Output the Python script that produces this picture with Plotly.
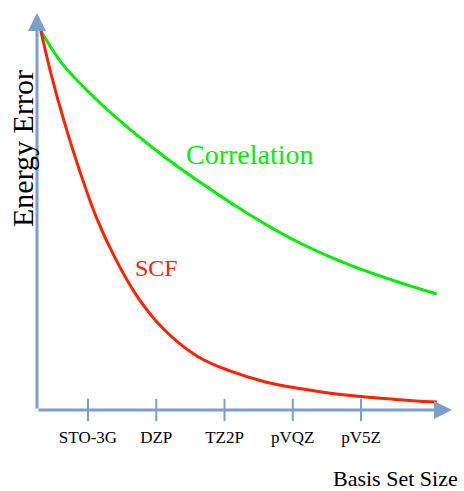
import plotly.graph_objects as go

# ---- data ----
tick_pos = [1, 2, 3, 4, 5]
tick_labels = ["STO-3G", "DZP", "TZ2P", "pVQZ", "pV5Z"]

corr_x = [0.31, 0.63, 1.13, 1.62, 2.10, 2.60, 3.08, 3.60, 4.11, 4.84, 5.57, 6.11]
corr_y = [1.000, 0.912, 0.818, 0.740, 0.671, 0.606, 0.548, 0.490, 0.440, 0.382, 0.336, 0.306]

scf_x = [0.31, 0.45, 0.64, 0.88, 1.13, 1.40, 1.72, 2.10, 2.60, 3.08, 3.60, 4.10, 4.80, 5.50, 6.11]
scf_y = [1.000, 0.893, 0.768, 0.630, 0.505, 0.400, 0.300, 0.215, 0.142, 0.103, 0.074, 0.057, 0.039, 0.028, 0.021]

x_min, x_max = 0.253, 6.333
y_min, y_max = 0.0, 1.0475

AXIS = "#7BA0D0"
GREEN = "#00EE00"
RED = "#FF2200"
SERIF = "Liberation Serif, Times New Roman, serif"

fig = go.Figure()

fig.add_trace(go.Scatter(x=corr_x, y=corr_y, mode="lines",
                         line=dict(color=GREEN, width=3, shape="spline", smoothing=1.0),
                         hoverinfo="skip", showlegend=False))
fig.add_trace(go.Scatter(x=scf_x, y=scf_y, mode="lines",
                         line=dict(color=RED, width=3, shape="spline", smoothing=1.0),
                         hoverinfo="skip", showlegend=False))

# tick marks crossing the x axis
fig.add_trace(go.Scatter(x=tick_pos, y=[0] * len(tick_pos), mode="markers",
                         marker=dict(symbol="line-ns", size=16,
                                     line=dict(color=AXIS, width=2)),
                         hoverinfo="skip", showlegend=False, cliponaxis=False))

# axes with arrows
fig.add_annotation(x=x_max, y=0, ax=x_min, ay=0, xref="x", yref="y",
                   axref="x", ayref="y", text="", showarrow=True,
                   arrowhead=2, arrowsize=1.2, arrowwidth=3, arrowcolor=AXIS)
fig.add_annotation(x=x_min, y=y_max, ax=x_min, ay=0, xref="x", yref="y",
                   axref="x", ayref="y", text="", showarrow=True,
                   arrowhead=2, arrowsize=1.2, arrowwidth=3, arrowcolor=AXIS)

# curve labels
fig.add_annotation(x=3.37, y=0.673, xref="x", yref="y", text="Correlation",
                   showarrow=False, font=dict(family=SERIF, size=28, color=GREEN))
fig.add_annotation(x=2.01, y=0.375, xref="x", yref="y", text="SCF",
                   showarrow=False, font=dict(family=SERIF, size=24, color=RED))

W, H = 464, 491
L, R, T, B = 37, 12, 13, 81

def px_x(p):
    return (p - L) / (W - L - R)

def px_y(p):
    return (H - B - p) / (H - T - B)

# axis titles
fig.add_annotation(x=px_x(460), y=px_y(478), xref="paper", yref="paper",
                   text="Basis Set Size", showarrow=False,
                   xanchor="right", yanchor="middle",
                   font=dict(family=SERIF, size=22, color="black"))
fig.add_annotation(x=px_x(23), y=px_y(149), xref="paper", yref="paper",
                   text="Energy Error", showarrow=False, textangle=-90,
                   xanchor="center", yanchor="middle",
                   font=dict(family=SERIF, size=30, color="black"))

fig.update_layout(
    width=W, height=H,
    margin=dict(l=L, r=R, t=T, b=B),
    paper_bgcolor="white", plot_bgcolor="white",
    xaxis=dict(range=[x_min, x_max], showgrid=False, zeroline=False, showline=False,
               tickvals=tick_pos, ticktext=tick_labels, ticks="",
               ticklabelstandoff=15,
               tickfont=dict(family=SERIF, size=17, color="black")),
    yaxis=dict(range=[y_min, y_max], showgrid=False, zeroline=False, showline=False,
               showticklabels=False, ticks=""),
)

fig.write_html(
    "out.html",
    config={"displayModeBar": False},
    post_script="document.body.style.margin='0';document.body.style.padding='0';"
                "document.body.style.overflow='hidden';",
)
